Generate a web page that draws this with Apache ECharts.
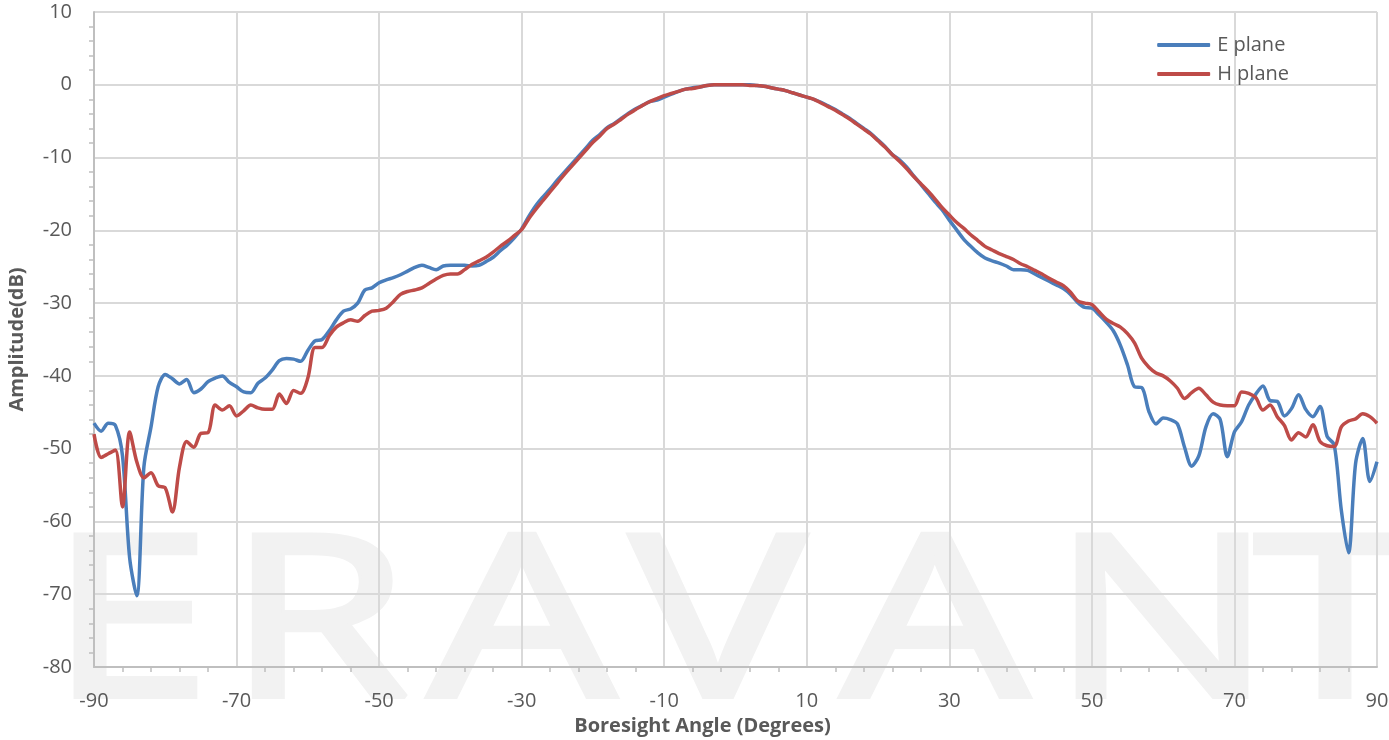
<!DOCTYPE html>
<html>
<head>
<meta charset="utf-8">
<script src="https://cdn.jsdelivr.net/npm/echarts@6/dist/echarts.min.js"></script>
<style>
  html, body { margin: 0; padding: 0; background: #fff; }
  #chart { width: 1389px; height: 740px; }
</style>
</head>
<body>
<div id="chart"></div>
<script>
// angles -90..90 step 1
var angles = [];
for (var a = -90; a <= 90; a++) angles.push(a);

var ePlane = [
  -46.5, -47.6, -46.5, -46.8, -51.0, -65.0, -70.2, -52.5, -47.0, -41.5,
  -39.8, -40.4, -41.1, -40.5, -42.3, -41.8, -40.8, -40.3, -40.0, -40.9,
  -41.5, -42.2, -42.3, -41.0, -40.3, -39.2, -37.9, -37.6, -37.7, -38.0,
  -36.5, -35.2, -35.0, -33.8, -32.3, -31.1, -30.8, -30.0, -28.2, -27.9,
  -27.2, -26.8, -26.5, -26.1, -25.6, -25.1, -24.8, -25.1, -25.4, -24.9,
  -24.8, -24.8, -24.8, -24.9, -24.8, -24.3, -23.7, -22.8, -22.0, -21.0,
  -19.8, -18.1, -16.6, -15.4, -14.3, -13.1, -12.0, -10.9, -9.8, -8.7,
  -7.6, -6.8, -5.9, -5.3, -4.6, -3.9, -3.3, -2.8, -2.3, -2.1,
  -1.7, -1.3, -0.9, -0.6, -0.4, -0.3, -0.1, 0.0, 0.0, 0.0,
  0.0, 0.0, 0.0, -0.1, -0.2, -0.4, -0.6, -0.8, -1.1, -1.4,
  -1.7, -2.0, -2.4, -2.9, -3.4, -4.0, -4.6, -5.3, -6.0, -6.7,
  -7.6, -8.5, -9.6, -10.3, -11.3, -12.5, -13.7, -14.9, -16.1, -17.2,
  -18.6, -19.9, -21.2, -22.2, -23.1, -23.8, -24.2, -24.5, -24.9, -25.4,
  -25.4, -25.5, -26.0, -26.5, -27.0, -27.5, -28.0, -28.8, -29.9, -30.6,
  -30.7, -31.6, -32.6, -33.8, -35.8, -38.5, -41.5, -41.6, -44.9, -46.6,
  -45.8, -46.0, -46.6, -49.8, -52.4, -51.0, -47.0, -45.2, -46.0, -51.1,
  -47.7, -46.3, -44.0, -42.5, -41.4, -43.4, -43.5, -45.5, -44.5, -42.6,
  -44.6, -45.6, -44.2, -48.3, -49.5, -58.5, -64.3, -52.0, -48.6, -54.5,
  -51.8
];

var hPlane = [
  -48.0, -51.2, -50.7, -50.2, -58.0, -47.7, -51.8, -54.0, -53.3, -55.1,
  -55.4, -58.7, -52.5, -49.0, -49.8, -47.9, -47.8, -44.0, -44.7, -44.1,
  -45.5, -44.8, -44.0, -44.4, -44.6, -44.6, -42.5, -43.8, -42.0, -42.4,
  -40.3, -36.1, -36.1, -34.5, -33.3, -32.7, -32.3, -32.5, -31.7, -31.1,
  -31.0, -30.7, -29.8, -28.8, -28.4, -28.2, -27.9, -27.3, -26.7, -26.2,
  -26.0, -26.0, -25.4, -24.7, -24.2, -23.7, -23.0, -22.2, -21.5, -20.7,
  -19.9, -18.4, -17.1, -15.9, -14.7, -13.5, -12.3, -11.2, -10.1, -9.0,
  -7.9, -7.0, -6.0, -5.4, -4.7, -4.0, -3.4, -2.8, -2.3, -1.9,
  -1.5, -1.2, -0.9, -0.6, -0.5, -0.3, -0.1, 0.0, 0.0, 0.0,
  0.0, 0.0, -0.1, -0.1, -0.2, -0.4, -0.6, -0.8, -1.1, -1.4,
  -1.7, -2.0, -2.5, -3.0, -3.5, -4.1, -4.7, -5.4, -6.1, -6.8,
  -7.7, -8.6, -9.6, -10.5, -11.5, -12.6, -13.6, -14.6, -15.7, -16.9,
  -17.9, -18.9, -19.7, -20.6, -21.4, -22.2, -22.7, -23.2, -23.6, -24.0,
  -24.6, -25.0, -25.5, -26.0, -26.6, -27.1, -27.6, -28.5, -29.7, -30.0,
  -30.2, -31.2, -32.2, -32.8, -33.3, -34.2, -35.5, -37.6, -38.8, -39.6,
  -40.0, -40.7, -41.7, -43.1, -42.3, -41.7, -42.6, -43.6, -44.0, -44.1,
  -44.1, -42.2, -42.4, -43.0, -44.7, -44.0, -45.6, -46.8, -48.8, -47.8,
  -48.4, -46.7, -49.0, -49.6, -49.7, -47.0, -46.2, -45.9, -45.2, -45.6,
  -46.5
];

var seriesNames = ['E plane', 'H plane'];
var seriesColors = ['#4a7ebb', '#be4b48'];

function pairs(vals) {
  return angles.map(function (a, i) { return [a, vals[i]]; });
}

var chart = echarts.init(document.getElementById('chart'));

// watermark letters behind the plot
var wm = ['E', 'R', 'A', 'V', 'A', 'N', 'T'];
var wmCenter = [130, 318, 522, 718, 935, 1162, 1335];

var option = {
  animation: false,
  textStyle: { fontFamily: 'Open Sans' },
  graphic: wm.map(function (ch, i) {
    return {
      type: 'text', z: -10, x: wmCenter[i], y: 519, scaleX: 1.3,
      style: {
        text: ch, fontSize: 226, fontFamily: 'Noto Sans',
        fill: '#f2f2f2', stroke: '#f2f2f2', lineWidth: 5,
        textAlign: 'center', textVerticalAlign: 'top'
      }
    };
  }),
  grid: { left: 94, right: 12, top: 12, bottom: 73, outerBoundsMode: 'none' },
  legend: {
    data: seriesNames,
    orient: 'vertical',
    right: 95,
    top: 30,
    icon: 'roundRect',
    itemWidth: 53,
    itemHeight: 4,
    itemGap: 9,
    textStyle: { fontSize: 20, color: '#595959', fontFamily: 'Open Sans', padding: [0, 0, 0, 2] }
  },
  xAxis: {
    type: 'value',
    min: -90, max: 90, interval: 20,
    name: 'Boresight Angle (Degrees)',
    nameLocation: 'middle',
    nameGap: 45,
    nameTextStyle: { fontSize: 20, fontWeight: 'bold', color: '#595959', padding: [0, 66, 0, 0] },
    axisLine: { onZero: false, lineStyle: { color: '#bfbfbf', width: 2 } },
    axisTick: { show: false },
    minorTick: { show: true, splitNumber: 5, length: 5, lineStyle: { color: '#bfbfbf', width: 1.5 } },
    axisLabel: { fontSize: 20, color: '#595959', margin: 24 },
    splitLine: { lineStyle: { color: '#d9d9d9', width: 2 } }
  },
  yAxis: {
    type: 'value',
    min: -80, max: 10, interval: 10,
    name: 'Amplitude(dB)',
    nameLocation: 'middle',
    nameRotate: 90,
    nameGap: 67,
    nameTextStyle: { fontSize: 20, fontWeight: 'bold', color: '#595959' },
    axisLine: { show: true, onZero: false, lineStyle: { color: '#bfbfbf', width: 2 } },
    axisTick: { show: false },
    minorTick: { show: true, splitNumber: 5, length: 5, lineStyle: { color: '#bfbfbf', width: 1.5 } },
    axisLabel: { fontSize: 20, color: '#595959', margin: 22 },
    splitLine: { lineStyle: { color: '#d9d9d9', width: 2 } }
  },
  series: [{
    name: seriesNames[0],
    type: 'line',
    data: pairs(ePlane),
    symbol: 'none',
    smooth: 0.3,
    color: seriesColors[0],
    lineStyle: { width: 3.5 },
    z: 3
  }, {
    name: seriesNames[1],
    type: 'line',
    data: pairs(hPlane),
    symbol: 'none',
    smooth: 0.3,
    color: seriesColors[1],
    lineStyle: { width: 3.5 },
    z: 4
  }]
};

chart.setOption(option);
</script>
</body>
</html>
